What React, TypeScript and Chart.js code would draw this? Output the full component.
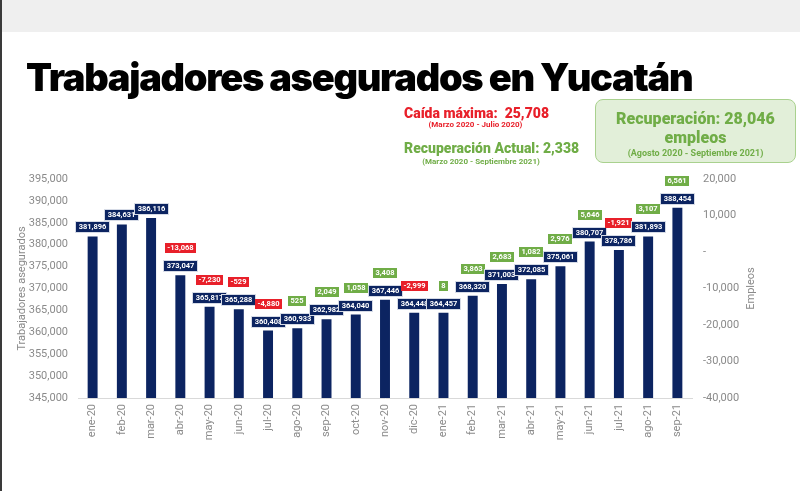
import React, { useEffect, useRef } from "react";
import { Chart, registerables } from "chart.js";

Chart.register(...registerables);

const months = [
  "ene-20", "feb-20", "mar-20", "abr-20", "may-20", "jun-20", "jul-20",
  "ago-20", "sep-20", "oct-20", "nov-20", "dic-20", "ene-21", "feb-21",
  "mar-21", "abr-21", "may-21", "jun-21", "jul-21", "ago-21", "sep-21",
];

const trabajadores = [
  381896, 384631, 386116, 373047, 365817, 365288, 360408,
  360933, 362982, 364040, 367446, 364448, 364457, 368320,
  371003, 372085, 375061, 380707, 378786, 381893, 388454,
];

const empleos: (number | null)[] = [
  null, null, null, -13068, -7230, -529, -4880,
  525, 2049, 1058, 3408, -2999, 8, 3863,
  2683, 1082, 2976, 5646, -1921, 3107, 6561,
];

const leftMin = 345000;
const leftMax = 395000;
const leftStep = 5000;
const rightMin = -40000;
const rightMax = 20000;
const rightStep = 10000;

const NAVY = "#0c2461";
const GREEN = "#70ad47";
const RED = "#e8202a";
const GREY = "#8a8a8a";

const fmt = (v: number) => v.toLocaleString("en-US");

function drawLabel(ctx: CanvasRenderingContext2D, text: string, x: number, cy: number, bg: string, border: string | null) {
  ctx.font = "bold 7.5px Roboto";
  const w = Math.round(ctx.measureText(text).width + 5);
  const h = 10;
  const lx = Math.round(x - w / 2);
  const ly = Math.round(cy - h / 2);
  ctx.fillStyle = bg;
  ctx.fillRect(lx, ly, w, h);
  if (border) {
    ctx.strokeStyle = border;
    ctx.lineWidth = 1;
    ctx.strokeRect(lx - 0.5, ly - 0.5, w + 1, h + 1);
  }
  ctx.fillStyle = "#ffffff";
  ctx.textAlign = "center";
  ctx.textBaseline = "middle";
  ctx.fillText(text, lx + w / 2, ly + h / 2 + 0.5);
}

const labelsPlugin = {
  id: "valueLabels",
  afterDatasetsDraw(chart: any) {
    const ctx: CanvasRenderingContext2D = chart.ctx;
    const meta = chart.getDatasetMeta(0);
    ctx.save();
    meta.data.forEach((bar: any, i: number) => {
      const x = bar.x;
      const top = bar.y;
      drawLabel(ctx, fmt(trabajadores[i]), x, top - 9, NAVY, "#d6dbe6");
      const e = empleos[i];
      if (e !== null && e !== undefined) {
        drawLabel(ctx, fmt(e), x, top - 27, e < 0 ? RED : GREEN, null);
      }
    });
    ctx.restore();
  },
};

const axisTitlesPlugin = {
  id: "axisTitles",
  afterDraw(chart: any) {
    const ctx: CanvasRenderingContext2D = chart.ctx;
    const { top, bottom } = chart.chartArea;
    const cy = (top + bottom) / 2;
    ctx.save();
    ctx.fillStyle = GREY;
    ctx.font = "11px Roboto";
    ctx.textAlign = "center";
    ctx.textBaseline = "middle";
    ctx.translate(22, cy);
    ctx.rotate(-Math.PI / 2);
    ctx.fillText("Trabajadores asegurados", 0, 0);
    ctx.restore();
    ctx.save();
    ctx.fillStyle = GREY;
    ctx.font = "11px Roboto";
    ctx.textAlign = "center";
    ctx.textBaseline = "middle";
    ctx.translate(751, cy);
    ctx.rotate(-Math.PI / 2);
    ctx.fillText("Empleos", 0, 0);
    ctx.restore();
  },
};

function ChartCanvas() {
  const ref = useRef<HTMLCanvasElement | null>(null);
  useEffect(() => {
    if (!ref.current) return;
    const chart = new Chart(ref.current, {
      type: "bar",
      data: {
        labels: months,
        datasets: [
          {
            type: "bar",
            label: "Trabajadores asegurados",
            data: trabajadores,
            backgroundColor: NAVY,
            yAxisID: "y",
            barPercentage: 0.34,
            categoryPercentage: 1,
          },
          {
            type: "line",
            label: "Empleos",
            data: empleos,
            yAxisID: "y2",
            showLine: false,
            pointRadius: 0,
            pointHoverRadius: 0,
          } as any,
        ],
      },
      options: {
        responsive: false,
        animation: false,
        layout: { padding: { top: 179, left: 0, right: 0, bottom: 0 } },
        plugins: {
          legend: { display: false },
          tooltip: { enabled: false },
          title: { display: false },
        },
        scales: {
          x: {
            grid: { display: false, drawTicks: false },
            border: { display: true, color: "#d9d9d9", width: 1 },
            ticks: {
              color: GREY,
              font: { family: "Roboto", size: 11 },
              minRotation: 90,
              maxRotation: 90,
              padding: 6,
              autoSkip: false,
            },
            afterFit: (s: any) => { s.height = 93; },
          },
          y: {
            position: "left",
            min: leftMin,
            max: leftMax,
            grid: { display: false, drawTicks: false },
            border: { display: false },
            ticks: {
              stepSize: leftStep,
              color: GREY,
              font: { family: "Roboto", size: 11 },
              padding: 10,
              callback: (v: any) => fmt(Number(v)),
            },
            afterFit: (s: any) => { s.width = 78; },
          },
          y2: {
            position: "right",
            min: rightMin,
            max: rightMax,
            grid: { display: false, drawTicks: false },
            border: { display: false },
            ticks: {
              stepSize: rightStep,
              color: GREY,
              font: { family: "Roboto", size: 11 },
              padding: 11,
              callback: (v: any) => (Number(v) === 0 ? "-" : fmt(Number(v))),
            },
            afterFit: (s: any) => { s.width = 108; },
          },
        },
      },
      plugins: [labelsPlugin, axisTitlesPlugin],
    });
    return () => chart.destroy();
  }, []);
  return <canvas ref={ref} width={800} height={491} style={{ position: "absolute", left: 0, top: 0 }} />;
}

export default function App() {
  return (
    <div style={{ position: "absolute", left: 0, top: 0, width: 800, height: 491, background: "#ffffff", overflow: "hidden", fontFamily: "Roboto" }}>
      <div style={{ position: "absolute", left: 0, top: 0, width: 800, height: 32, background: "#efefef" }} />
      <div style={{ position: "absolute", left: 0, top: 0, width: 2, height: 491, background: "#3a3a3a" }} />
      <ChartCanvas />
      <div style={{ position: "absolute", left: 26, top: 58, fontFamily: "Inter", fontWeight: 900, fontSize: 38, lineHeight: "38px", color: "#000", whiteSpace: "nowrap", letterSpacing: -1.3 }}>
        Trabajadores asegurados en Yucatán
      </div>
      <div style={{ position: "absolute", left: 404, top: 105, color: RED, fontWeight: 900, fontSize: 14, lineHeight: "16px", whiteSpace: "nowrap" }}>
        Caída máxima:&nbsp; 25,708
      </div>
      <div style={{ position: "absolute", left: 404, width: 143, top: 120, color: RED, fontWeight: 700, fontSize: 8, lineHeight: "9px", textAlign: "center", whiteSpace: "nowrap" }}>
        (Marzo 2020 - Julio 2020)
      </div>
      <div style={{ position: "absolute", left: 404, top: 140, color: GREEN, fontWeight: 900, fontSize: 14, lineHeight: "17px", whiteSpace: "nowrap" }}>
        Recuperación Actual: 2,338
      </div>
      <div style={{ position: "absolute", left: 404, width: 154, top: 157, color: GREEN, fontWeight: 700, fontSize: 8, lineHeight: "9px", textAlign: "center", whiteSpace: "nowrap" }}>
        (Marzo 2020 - Septiembre 2021)
      </div>
      <div style={{ position: "absolute", left: 595, top: 99, width: 201, height: 64, boxSizing: "border-box", background: "#e2efd9", border: "1px solid #a9d18e", borderRadius: 8, color: GREEN, textAlign: "center", fontWeight: 900 }}>
        <div style={{ fontSize: 16, lineHeight: "20px", marginTop: 9 }}>Recuperación: 28,046</div>
        <div style={{ fontSize: 16, lineHeight: "18px" }}>empleos</div>
        <div style={{ fontSize: 9, lineHeight: "11px", marginTop: 1, fontWeight: 700 }}>(Agosto 2020 - Septiembre 2021)</div>
      </div>
    </div>
  );
}
